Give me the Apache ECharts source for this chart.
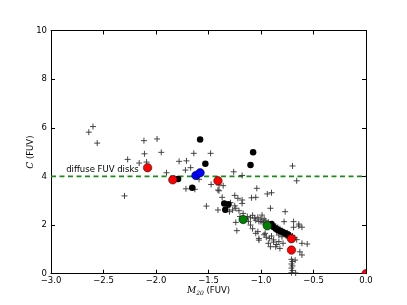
<!DOCTYPE html>
<html><head><meta charset="utf-8">
<script src="https://cdn.jsdelivr.net/npm/echarts@6/dist/echarts.min.js"></script>
<style>html,body{margin:0;padding:0;background:#fff}#c{width:407px;height:305px}</style>
</head><body><div id="c"></div>
<script>
// ---- data ----
const xTicks = [-3.0, -2.5, -2.0, -1.5, -1.0, -0.5, 0.0];
const yTicks = [0, 2, 4, 6, 8, 10];
const crossPts = [
[-2.64,5.82],[-2.60,6.05],[-2.56,5.37],[-2.30,3.20],[-2.27,4.70],[-2.115,5.47],[-2.11,4.93],[-2.16,4.55],[-2.09,4.59],
[-1.99,5.54],[-1.95,4.99],[-1.90,4.15],[-1.78,4.62],[-1.71,4.64],[-1.72,4.26],[-1.64,4.95],[-1.67,4.36],[-1.715,3.49],
[-1.82,3.92],[-1.63,3.47],[-1.59,3.88],[-1.48,4.95],[-1.52,2.78],[-1.41,2.62],[-1.475,3.67],[-1.41,3.44],[-1.40,3.41],
[-1.40,3.65],[-1.36,3.62],[-1.37,3.14],[-1.26,4.19],[-1.18,4.04],[-1.25,3.22],[-1.22,3.10],[-1.09,3.12],[-1.05,3.14],
[-1.04,3.51],[-1.29,2.92],[-1.25,2.79],[-1.24,2.69],[-1.18,2.89],[-1.21,2.59],[-1.17,2.48],[-1.23,1.77],[-1.24,2.11],
[-1.03,1.73],[-0.70,4.43],[-0.66,3.82],[-0.94,3.28],[-0.90,3.33],[-1.18,3.03],[-0.91,2.69],[-0.77,2.55],[-0.78,2.14],
[-0.69,1.91],[-0.64,2.04],[-0.61,1.91],[-0.99,2.41],[-0.97,2.25],[-1.00,2.14],[-0.69,2.14],[-0.64,1.96],[-0.85,1.73],
[-0.83,1.59],[-0.80,1.52],[-0.88,1.39],[-0.91,1.11],[-0.86,1.11],[-0.79,1.25],[-0.82,1.04],[-0.61,1.25],[-0.56,1.22],
[-0.63,0.90],[-0.61,0.77],[-0.71,0.59],[-0.70,0.50],[-0.71,0.40],[-0.70,0.32],[-0.71,0.23],[-0.70,0.13],[-0.71,0.04],
[-0.675,0.56],[-0.67,0.03],[-1.02,1.45],[-1.02,1.38],[-0.93,1.25],[-1.05,1.66],
[-1.13,2.35],[-1.10,2.30],[-1.08,2.40],[-1.06,2.28],[-1.05,2.20],[-1.03,2.32],[-1.02,2.15],[-1.00,2.25],[-0.98,2.10],
[-0.96,2.18],[-0.95,2.05],[-0.93,2.12],[-0.92,1.98],[-0.90,1.95],[-0.89,2.05],[-0.87,1.88],[-0.86,1.95],[-0.85,1.82],
[-0.84,1.90],[-0.83,1.75],[-0.82,1.85],[-0.81,1.70],[-0.80,1.78],[-0.79,1.65],[-0.78,1.72],[-0.77,1.60],[-0.76,1.55],
[-0.75,1.68],[-0.74,1.50],[-0.73,1.62],[-0.72,1.45],[-0.70,1.55],[-0.68,1.48],[-0.66,1.40],[-0.97,1.60],[-0.95,1.50],
[-0.92,1.45],[-1.10,2.00],[-1.08,1.85],[-1.12,2.15],[-1.15,2.25],[-1.20,2.35],[-1.27,2.62],[-1.32,2.72],[-1.30,2.55],
[-0.96,1.66],[-0.90,1.55],[-0.88,1.30],[-0.85,1.20],[-0.83,1.32]
];
const blackPts = [
[-1.58,5.52],[-1.53,4.52],[-1.075,4.99],[-1.10,4.47],[-1.655,3.53],[-1.79,3.89],[-1.35,2.89],[-1.31,2.86],[-1.34,2.63],
[-0.90,2.04],[-0.88,1.92],[-0.86,1.86],[-0.84,1.80],[-0.82,1.76],[-0.80,1.72],[-0.78,1.68],[-0.76,1.64],[-0.74,1.60]
];
const redPts = [[-2.08,4.36],[-1.84,3.86],[-1.41,3.82],[-0.71,1.44],[-0.71,0.97],[0.0,0.0]];
const bluePts = [[-1.62,4.04],[-1.58,4.15]];
const greenPts = [[-1.17,2.23],[-0.94,1.97]];
const thresholdLine = [[-3.0,4.0],[0.0,4.0]];
const annotation = {pos: [-2.855, 4.29], text: 'diffuse FUV disks'};
const xName = '{i|M}{s|20} (FUV)';
const yName = '{i|C} (FUV)';

// ---- chart ----
const FONT = 'DejaVu Sans';
const chart = echarts.init(document.getElementById('c'), null, {renderer: 'canvas'});
const fmtX = v => (v < 0 ? '\u2212' : '') + Math.abs(v).toFixed(1);
const tick = () => ({show: true, inside: true, length: 4, lineStyle: {color: '#000', width: 1}});
const line = () => ({show: true, onZero: false, lineStyle: {color: '#000', width: 1}});
const nameRich = {
  i: {fontFamily: 'DejaVu Serif', fontStyle: 'italic', fontSize: 9, color: '#000'},
  s: {fontFamily: 'DejaVu Serif', fontStyle: 'italic', fontSize: 6, color: '#000', padding: [6,0,0,0]}
};
const circleItem = (fill, r) => (params, api) => {
  const p = api.coord([api.value(0), api.value(1)]);
  return {type: 'circle', shape: {cx: p[0], cy: p[1], r: r},
          style: {fill: fill, stroke: '#000', lineWidth: 0.5}};
};
chart.setOption({
  animation: false,
  grid: {left: 51, right: 41, top: 30.5, bottom: 31.3, show: false},
  xAxis: [{
    type: 'value', min: xTicks[0], max: xTicks[xTicks.length-1], interval: 0.5,
    axisLine: line(), axisTick: tick(), splitLine: {show: false},
    axisLabel: {formatter: fmtX, fontFamily: FONT, fontSize: 8.5, color: '#000', margin: 3},
    name: xName, nameLocation: 'middle', nameGap: 11, nameMoveOverlap: false,
    nameTextStyle: {fontFamily: FONT, fontSize: 8.5, color: '#000', rich: nameRich}
  }, {
    type: 'value', position: 'top', min: xTicks[0], max: xTicks[xTicks.length-1], interval: 0.5,
    axisLine: line(), axisTick: tick(), axisLabel: {show: false}, splitLine: {show: false}
  }],
  yAxis: [{
    type: 'value', position: 'left', min: yTicks[0], max: yTicks[yTicks.length-1], interval: 2,
    axisLine: line(), axisTick: tick(), splitLine: {show: false},
    axisLabel: {fontFamily: FONT, fontSize: 8.5, color: '#000', margin: 4},
    name: yName, nameLocation: 'middle', nameGap: 16, nameRotate: 90, nameMoveOverlap: false,
    nameTextStyle: {fontFamily: FONT, fontSize: 8.5, color: '#000', rich: nameRich}
  }, {
    type: 'value', position: 'right', min: yTicks[0], max: yTicks[yTicks.length-1], interval: 2,
    axisLine: line(), axisTick: tick(), axisLabel: {show: false}, splitLine: {show: false}
  }],
  series: [
    {type: 'line', data: thresholdLine, symbol: 'none', z: 1,
     lineStyle: {color: '#1a8a1a', width: 1.8, type: [5, 3.5]}},
    {type: 'scatter', data: crossPts, symbol: 'path://M0,-1L0,1M-1,0L1,0', symbolSize: 6, z: 2,
     itemStyle: {color: 'none', borderColor: '#333', borderWidth: 0.9, opacity: 1}},
    {type: 'scatter', data: blackPts, symbol: 'circle', symbolSize: 6.5, z: 3,
     itemStyle: {color: '#000', opacity: 1}},
    {type: 'custom', data: bluePts, encode: {x: 0, y: 1}, z: 4, clip: true,
     renderItem: circleItem('#0000ff', 4.25)},
    {type: 'custom', data: greenPts, encode: {x: 0, y: 1}, z: 4, clip: true,
     renderItem: circleItem('#008000', 4.25)},
    {type: 'custom', data: redPts, encode: {x: 0, y: 1}, z: 5, clip: true,
     renderItem: circleItem('#ff0000', 4.25)},
    {type: 'scatter', data: [annotation.pos], symbolSize: 0, z: 6, silent: true,
     itemStyle: {opacity: 1},
     label: {show: true, position: 'right', distance: 0, formatter: annotation.text,
             fontFamily: FONT, fontSize: 8.5, color: '#000', opacity: 1}}
  ]
});
</script></body></html>
